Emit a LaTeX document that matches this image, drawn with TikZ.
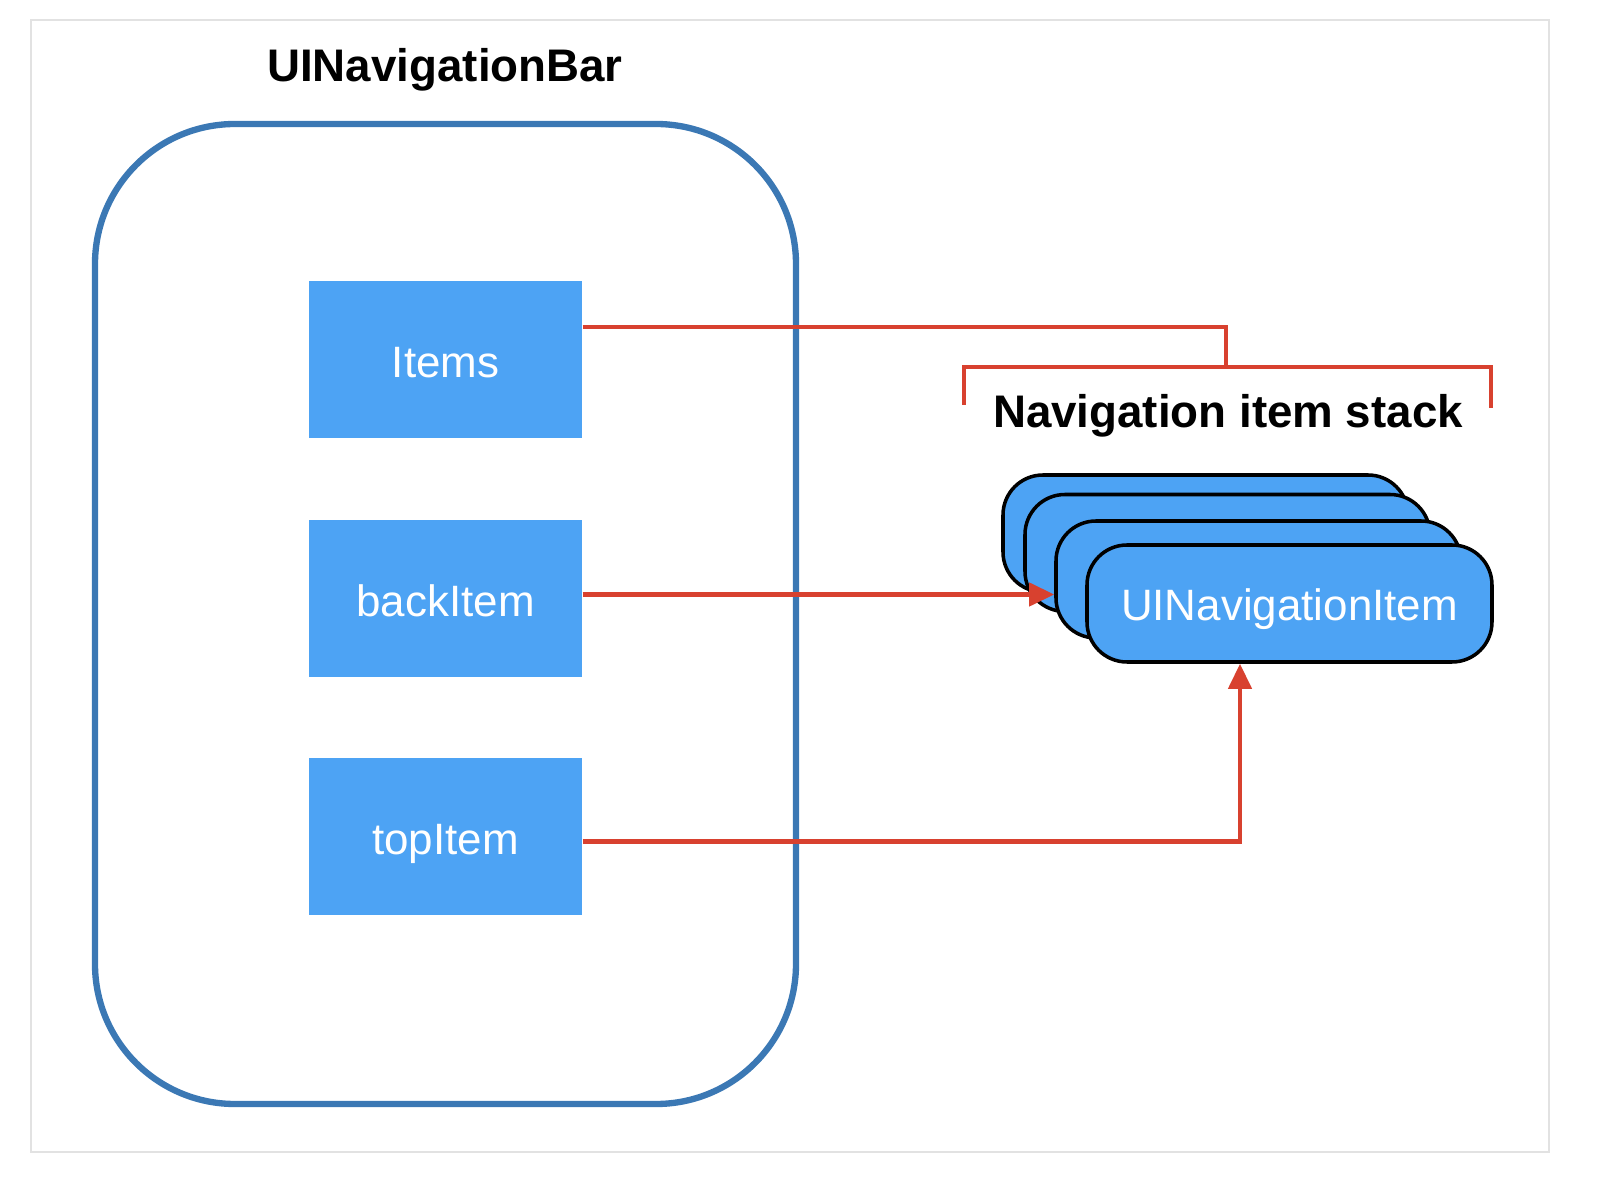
\documentclass[tikz,border=0pt]{standalone}
\usepackage{fontspec}
\setmainfont{Liberation Sans}
\usepackage{tikz}
\usetikzlibrary{arrows.meta,positioning,calc}
\usepackage{xcolor}
\definecolor{itemblue}{HTML}{4DA3F4}
\definecolor{barblue}{HTML}{3B78B4}
\definecolor{linkred}{HTML}{D8412F}
\definecolor{framegray}{HTML}{E2E2E2}

\begin{document}
\begin{tikzpicture}[
    >={Triangle[length=2.5mm,width=2.3mm]},
    bar/.style={
      rectangle, draw=barblue, line width=1.8pt, rounded corners=1.4cm,
      minimum width=7.01cm, minimum height=9.80cm
    },
    field/.style={
      rectangle, fill=itemblue, minimum width=2.73cm, minimum height=1.57cm,
      text=white, font=\fontsize{12.5}{15}\selectfont,
      text height=3.7mm, text depth=0pt
    },
    navitem/.style={
      rectangle, draw=black, fill=itemblue, line width=1pt,
      rounded corners=0.4cm, minimum width=4.05cm, minimum height=1.17cm,
      text=white, font=\fontsize{12.5}{15}\selectfont,
      text height=3.4mm, text depth=0pt
    },
    heading/.style={font=\fontsize{13}{16}\selectfont\bfseries, anchor=base},
    link/.style={draw=linkred, line width=1.2pt}
  ]
  \useasboundingbox (0,0) rectangle (15.98,-11.84);
  \draw[framegray, line width=0.6pt] (0.31,-0.20) rectangle (15.49,-11.52);

  % the bar and its properties
  \node[heading] (bartitle) at (4.45,-0.82) {UINavigationBar};
  \node[bar] (bar) at (4.455,-6.14) {};
  \node[field] (items) at (4.455,-3.595) {Items};
  \node[field] (back) at (4.455,-5.985) {backItem};
  \node[field] (top) at (4.455,-8.365) {topItem};

  % the item stack
  \node[navitem] (s1) at (12.055,-5.335) {};
  \node[navitem] (s2) at (12.275,-5.53) {};
  \node[navitem] (s3) at (12.585,-5.795) {};
  \node[navitem] (s4) at (12.895,-6.035) {UINavigationItem};
  \node[heading] (stacklbl) at (12.28,-4.28) {Navigation item stack};

  \coordinate (brl) at (9.64,-4.05);
  \coordinate (brr) at (14.91,-4.08);
  \coordinate (brk) at (12.26,-3.67);
  \draw[link] (brl) |- (brr |- brk) -- (brr);

  \draw[link] ([yshift=3.25mm]items.east) -| (brk);
  \coordinate (backout) at ([yshift=0.4mm]back.east);
  \draw[link, ->] (backout) -- (backout -| s3.west);
  \draw[link, ->] ([yshift=-0.5mm]top.east) -| ([xshift=-4.95mm]s4.south);
\end{tikzpicture}
\end{document}
